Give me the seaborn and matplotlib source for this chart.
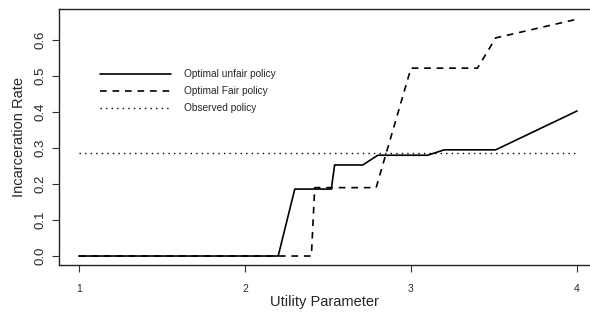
import matplotlib
matplotlib.use("Agg")
import matplotlib.pyplot as plt
import seaborn as sns
import pandas as pd

unfair_x = [1.0, 2.20, 2.30, 2.52, 2.54, 2.71, 2.80, 3.10, 3.20, 3.51, 4.0]
unfair_y = [0.0, 0.0, 0.186, 0.186, 0.253, 0.253, 0.280, 0.280, 0.295, 0.295, 0.403]
fair_x = [1.0, 2.40, 2.42, 2.79, 3.00, 3.40, 3.51, 4.0]
fair_y = [0.0, 0.0, 0.190, 0.190, 0.522, 0.522, 0.606, 0.658]
observed_x = [1.0, 4.0]
observed_y = [0.287, 0.287]

sns.set_theme(style="ticks")
plt.rcParams['font.family'] = ['Liberation Sans', 'DejaVu Sans']

fig = plt.figure(figsize=(5.9, 3.14), dpi=100)
ax = fig.add_axes([0.1, 0.156, 0.9, 0.815])

d1 = pd.DataFrame({"x": unfair_x, "y": unfair_y})
d2 = pd.DataFrame({"x": fair_x, "y": fair_y})
d3 = pd.DataFrame({"x": observed_x, "y": observed_y})
sns.lineplot(data=d1, x="x", y="y", ax=ax, color="black", lw=1.2,
             label="Optimal unfair policy", sort=False, estimator=None)
sns.lineplot(data=d2, x="x", y="y", ax=ax, color="black", lw=1.2,
             linestyle=(0, (4, 3.5)), label="Optimal Fair policy", sort=False, estimator=None)
sns.lineplot(data=d3, x="x", y="y", ax=ax, color="black", lw=1.0,
             linestyle=(0, (1, 3)), label="Observed policy", sort=False, estimator=None)

ax.set_xlim(0.88, 4.078)
ax.set_ylim(-0.025, 0.686)
ax.set_xticks([1, 2, 3, 4])
ax.set_yticks([0.0, 0.1, 0.2, 0.3, 0.4, 0.5, 0.6])
ax.set_yticklabels(["0.0", "0.1", "0.2", "0.3", "0.4", "0.5", "0.6"], rotation=90, va="center")
ax.tick_params(axis="both", length=5, width=0.8, color="#333333")
ax.tick_params(axis="x", labelsize=7.5, pad=9)
ax.tick_params(axis="y", labelsize=9.5, pad=4)
ax.set_xlabel("Utility Parameter", fontsize=10.5, va="center")
ax.set_ylabel("Incarceration Rate", fontsize=10.5, va="center")
ax.xaxis.set_label_coords(0.5, -0.145)
ax.yaxis.set_label_coords(-0.075, 0.5)
for s in ["left", "top", "bottom"]:
    ax.spines[s].set_visible(True)
    ax.spines[s].set_linewidth(1.0)
    ax.spines[s].set_color("#222222")
ax.spines["right"].set_visible(False)

leg = ax.legend(loc="upper left", bbox_to_anchor=(0.06, 0.80), frameon=False,
                fontsize=7.3, handlelength=7.0, labelspacing=0.68, handletextpad=1.3)

fig.savefig("out.png", dpi=100)
